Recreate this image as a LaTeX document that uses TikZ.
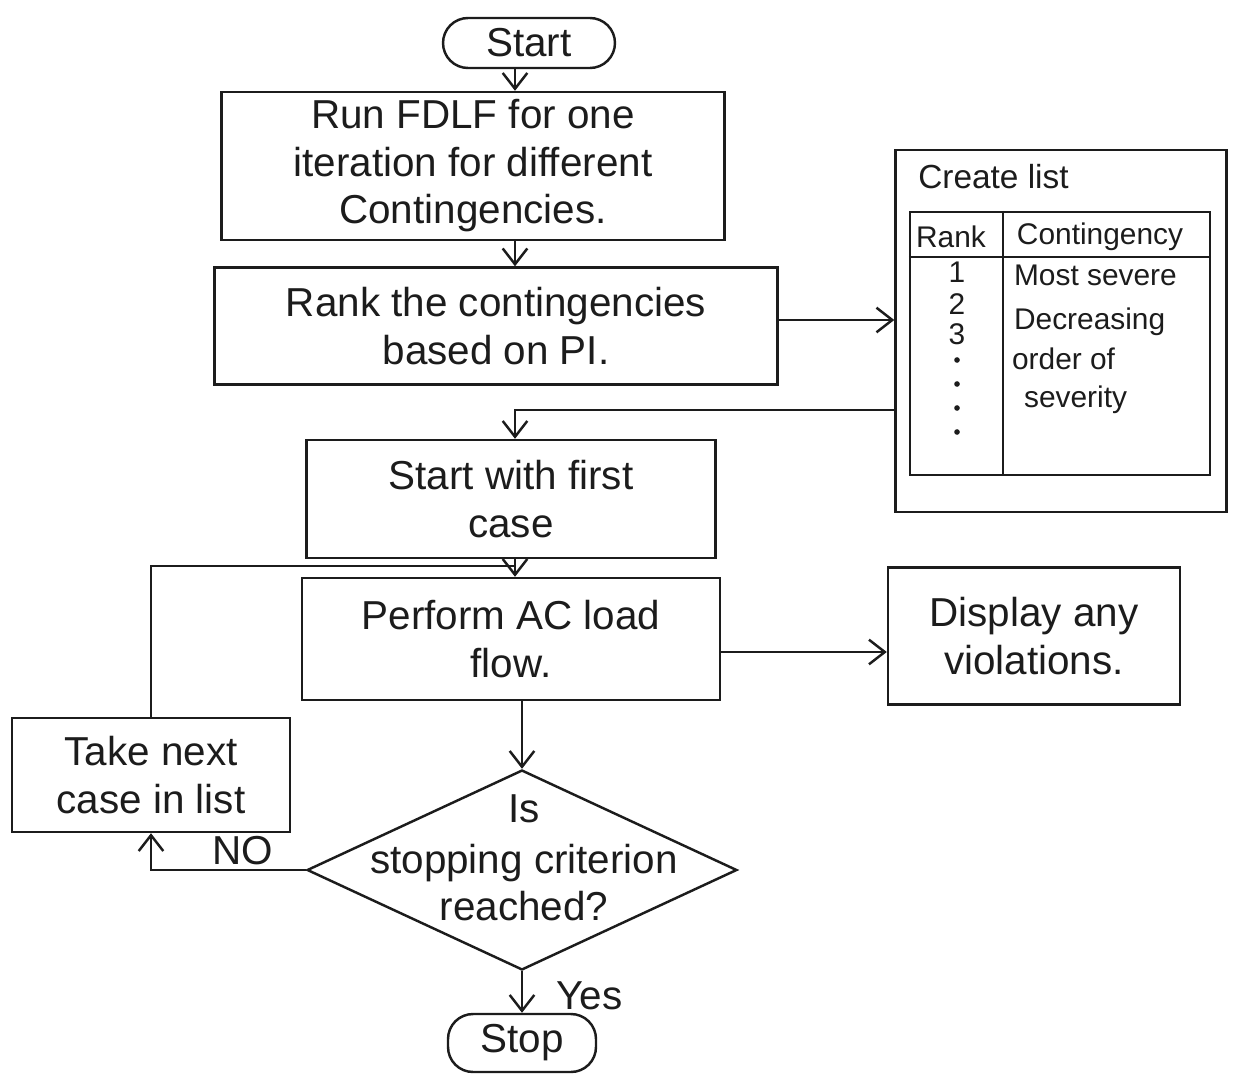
\documentclass[tikz,border=0pt]{standalone}
\usepackage{fontspec}
\setmainfont{Liberation Sans}
\usetikzlibrary{shapes.geometric,arrows.meta,calc}
\definecolor{inkc}{HTML}{1C1C1C}
\newcommand\flowfont{\fontsize{23}{27}\selectfont}
\newcommand\listfont{\fontsize{17}{19}\selectfont}
\begin{document}
\begin{tikzpicture}[x=0.02cm,y=-0.02cm,
  ink/.style={draw=inkc, line width=1.4pt},
  box/.style={ink, rectangle, align=center, inner sep=2pt, text=inkc, font=\flowfont},
  term/.style={box, rounded corners=0.5cm},
  flow/.style={ink, -{Straight Barb[length=9pt,width=14pt]}},
  lbl/.style={text=inkc, font=\flowfont, inner sep=1pt},
  cell/.style={text=inkc, font=\listfont, inner sep=1pt}]
\useasboundingbox[fill=white] (0,0) rectangle (1241,1078);

% main column
\node[term, minimum width=3.44cm, minimum height=1cm] (start) at (529,43) {Start};
\node[box, minimum width=10.06cm, minimum height=2.96cm] (run) at (473,166)
  {Run FDLF for one\\ iteration for different\\ Contingencies.};
\node[box, minimum width=11.26cm, minimum height=2.34cm] (rank) at (496,326)
  {Rank the contingencies\\ based on PI.};
\node[box, minimum width=8.18cm, minimum height=2.36cm] (first) at (511,499)
  {Start with first\\ case};
\node[box, minimum width=8.36cm, minimum height=2.44cm] (acflow) at (511,639)
  {Perform AC load\\ flow.};
\node[ink, diamond, minimum width=8.6cm, minimum height=4cm, inner sep=0pt] (dia) at (522,870) {};
\node[lbl, align=center] (diatext) at (524,858) {Is\\[2pt] stopping criterion\\ reached?};
\node[term, minimum width=2.96cm, minimum height=1.16cm] (stop) at (522,1043) {Stop};

% side boxes
\node[box, minimum width=5.56cm, minimum height=2.28cm] (next) at (151,775)
  {Take next\\ case in list};
\node[box, minimum width=5.84cm, minimum height=2.74cm] (show) at (1034,636)
  {Display any\\ violations.};

% ranked list
\node[ink, minimum width=6.62cm, minimum height=7.24cm] (listbox) at (1061,331) {};
\node[text=inkc, font=\fontsize{19}{21}\selectfont, anchor=west, inner sep=0pt] (listtitle) at (918,177) {Create list};
\node[ink, minimum width=6cm, minimum height=5.26cm] (tbl) at (1060,343.5) {};
\draw[ink] ($(tbl.north west)+(0,46)$) -- ($(tbl.north east)+(0,46)$);
\draw[ink] ($(tbl.north west)+(94,0)$) -- ($(tbl.south west)+(94,0)$);
\node[cell] (hrank) at (951,237) {Rank};
\node[cell] (hcont) at (1100,237) {Contingency};
\node[cell] (r1) at (957,272) {1};
\node[cell] (r2) at (957,304) {2};
\node[cell] (r3) at (957,334) {3};
\foreach \yy in {360,384,408,432}
  \fill[inkc] (957,\yy) circle[radius=1.6pt];
\node[cell, anchor=west] (c1) at (1012,275) {Most severe};
\node[cell, anchor=west] (c2) at (1012,322) {Decreasing};
\node[cell, anchor=west] (c3) at (1010,359) {order of};
\node[cell, anchor=west] (c4) at (1022,400) {severity};

% connectors
\coordinate (spine) at (515,0);
\coordinate (back) at (896,410);
\coordinate (join) at (515,566);
\draw[flow] (start.south -| spine) -- (run.north -| spine);
\draw[flow] (run.south -| spine) -- (rank.north -| spine);
\draw[flow] ($(rank.east)+(0,-6)$) -- ($(rank.east -| listbox.west)+(0,-6)$);
\draw[flow] (listbox.west |- back) -- (back -| spine) -- (first.north -| spine);
\draw[flow] (first.south -| spine) -- (acflow.north -| spine);
\draw[flow] ($(acflow.east)+(0,13)$) -- ($(acflow.east -| show.west)+(0,13)$);
\draw[flow] (acflow.south -| dia.north) -- (dia.north);
\draw[flow] (dia.south) -- node[lbl, right, xshift=18pt, yshift=-2pt] {Yes} (stop.north);
\draw[flow] (dia.west) -- node[lbl, above, yshift=1pt, xshift=8pt] {NO} (dia.west -| next.south) -- (next.south);
\draw[ink] (next.north) |- (join);
\end{tikzpicture}
\end{document}
